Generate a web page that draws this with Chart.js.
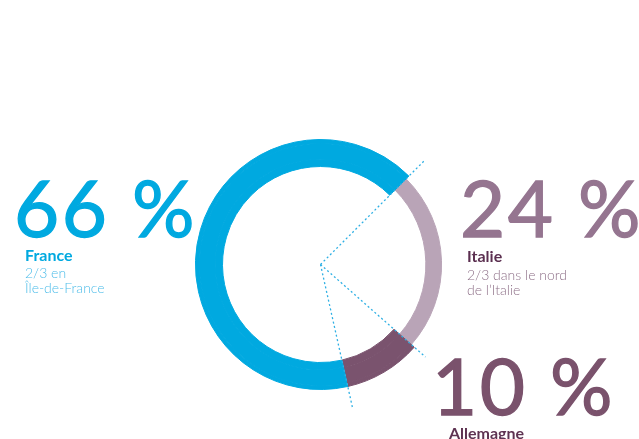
<!DOCTYPE html>
<html>
<head>
<meta charset="utf-8">
<script src="https://cdn.jsdelivr.net/npm/chart.js@4.4.0/dist/chart.umd.min.js"></script>
<style>
  html, body { margin: 0; padding: 0; background: #ffffff; }
  #wrap { position: relative; width: 639px; height: 439px; overflow: hidden; font-family: Lato, "Open Sans", sans-serif; }
  canvas { position: absolute; left: 0; top: 0; }
  .t { position: absolute; white-space: nowrap; line-height: 1; }
  .big { font-size: 78px; font-weight: 400; letter-spacing: 2.5px; -webkit-text-stroke: 1.3px currentColor; }
  .lab { font-size: 16px; font-weight: 700; }
  .sub { font-size: 14px; font-weight: 300; }
</style>
</head>
<body>
<div id="wrap">
  <canvas id="c" width="639" height="439"></canvas>
  <div class="t big" style="left:14px; top:168px; color:#00a9e0;">66 %</div>
  <div class="t lab" style="left:25px; top:247px; color:#00a9e0;">France</div>
  <div class="t sub" style="left:25px; top:266px; color:#4fbde9;">2/3 en</div>
  <div class="t sub" style="left:25px; top:281px; color:#4fbde9;">Île-de-France</div>

  <div class="t big" style="left:460px; top:168px; color:#957590;">24 %</div>
  <div class="t lab" style="left:467px; top:248px; color:#5b2f50;">Italie</div>
  <div class="t sub" style="left:467px; top:268px; color:#8e7088;">2/3 dans le nord</div>
  <div class="t sub" style="left:467px; top:283px; color:#8e7088;">de l’Italie</div>

  <div class="t big" style="left:432px; top:346px; color:#7a526c;">10 %</div>
  <div class="t lab" style="left:449px; top:425px; color:#5e3352;">Allemagne</div>
</div>
<script>
// ---- data ----
const categories = ['Italie', 'Allemagne', 'France'];
const shares = [24, 10, 66];
const segmentColors = ['#b9a4b7', '#7a536e', '#00a9e0'];

// Italie is drawn as a thinner band: outer/inner rings hide it
const hidden = 'rgba(0,0,0,0)';
const thinColors = segmentColors.map((c, i) => categories[i] === 'Italie' ? hidden : c);

const guideLengths = [146, 140, 146];

const guidePlugin = {
  id: 'guides',
  afterDatasetsDraw(chart) {
    const meta = chart.getDatasetMeta(1);
    const ctx = chart.ctx;
    ctx.save();
    ctx.strokeStyle = '#2fb0e4';
    ctx.lineWidth = 1.3;
    ctx.setLineDash([2, 2.5]);
    meta.data.forEach((arc, i) => {
      const a = arc.startAngle;
      const L = guideLengths[i];
      ctx.beginPath();
      ctx.moveTo(arc.x, arc.y);
      ctx.lineTo(arc.x + Math.cos(a) * L, arc.y + Math.sin(a) * L);
      ctx.stroke();
    });
    ctx.restore();
  }
};

new Chart(document.getElementById('c'), {
  type: 'doughnut',
  data: {
    labels: categories,
    datasets: [
      { data: shares, backgroundColor: thinColors, borderColor: thinColors, borderWidth: 1, weight: 4 },
      { data: shares, backgroundColor: segmentColors, borderColor: segmentColors, borderWidth: 1, weight: 16 },
      { data: shares, backgroundColor: thinColors, borderColor: thinColors, borderWidth: 1, weight: 7.5 }
    ]
  },
  options: {
    responsive: false,
    animation: false,
    events: [],
    rotation: 45,
    cutout: 98,
    layout: { padding: { left: 195, right: 193, top: 139, bottom: 49 } },
    plugins: { legend: { display: false }, tooltip: { enabled: false } }
  },
  plugins: [guidePlugin]
});
</script>
</body>
</html>
